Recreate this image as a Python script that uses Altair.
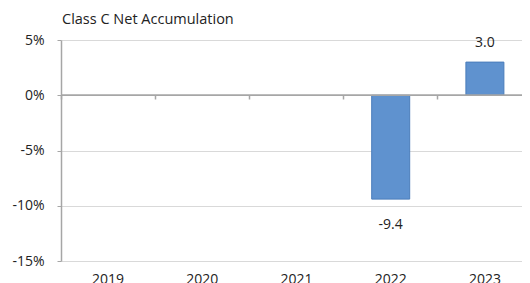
import altair as alt
import pandas as pd

years = ["2019", "2020", "2021", "2022", "2023"]
bar_years = ["2022", "2023"]
bar_values = [-9.4, 3.0]
y_ticks = [-15, -10, -5, 0, 5]
title_text = "Class C Net Accumulation"

FONT = "Open Sans"
FS = 14
df = pd.DataFrame({"year": bar_years, "value": bar_values})
df["label"] = [f"{v:.1f}" for v in bar_values]
base = alt.Chart(df)

xscale = alt.Scale(domain=years, paddingInner=0, paddingOuter=0, range=[0, 471])
yscale = alt.Scale(domain=[-15, 5], nice=False)

bars = base.mark_bar(size=38, color="#5f92cf", stroke="#4a7dbb", strokeWidth=1).encode(
    x=alt.X("year:N", scale=xscale, sort=years,
            axis=alt.Axis(title=None, orient="bottom", ticks=False, domain=False, grid=False,
                          labelAngle=0, labelPadding=11, labelFontSize=FS, labelFont=FONT,
                          labelColor="#222222")),
    y=alt.Y("value:Q", scale=yscale,
            axis=alt.Axis(title=None, values=y_ticks, labelExpr="datum.value + '%'",
                          grid=True, gridColor="#d9d9d9", gridWidth=1,
                          domainColor="#a6a6a6", domainWidth=1.5, tickColor="#a6a6a6",
                          tickSize=4, labelPadding=13, labelFontSize=FS, labelFont=FONT,
                          labelColor="#222222")),
)

zero = base.mark_rule(color="#a6a6a6", strokeWidth=1.5).encode(y=alt.datum(0))

ticks = base.mark_rule(opacity=0).encode(
    x=alt.X("year:N", scale=xscale, sort=years,
            axis=alt.Axis(title=None, orient="bottom", offset=-166, labels=False, domain=False,
                          grid=False, ticks=True, bandPosition=0, tickSize=4,
                          tickColor="#a6a6a6", tickWidth=1.5)),
    y=alt.datum(0),
)

neg_labels = base.transform_filter("datum.value < 0").mark_text(
    dy=26, fontSize=FS, font=FONT, color="#222222").encode(
    x=alt.X("year:N", scale=xscale, sort=years, axis=None),
    y=alt.Y("value:Q", scale=yscale), text="label:N")
pos_labels = base.transform_filter("datum.value >= 0").mark_text(
    dy=-19, fontSize=FS, font=FONT, color="#222222").encode(
    x=alt.X("year:N", scale=xscale, sort=years, axis=None),
    y=alt.Y("value:Q", scale=yscale), text="label:N")

chart = alt.layer(bars, zero, ticks, neg_labels, pos_labels).resolve_axis(x="independent").properties(
    width=461, height=221,
    autosize=alt.AutoSizeParams(type="none"),
    padding={"left": 53, "top": 32, "right": 0, "bottom": 22},
    title=alt.TitleParams(title_text, anchor="start", frame="group", dx=1, offset=6, fontSize=14.5,
                          font=FONT, fontWeight="normal", color="#222222"),
).configure_view(stroke=None)

chart.save("out.html", embed_options={"renderer": "svg", "actions": False})
